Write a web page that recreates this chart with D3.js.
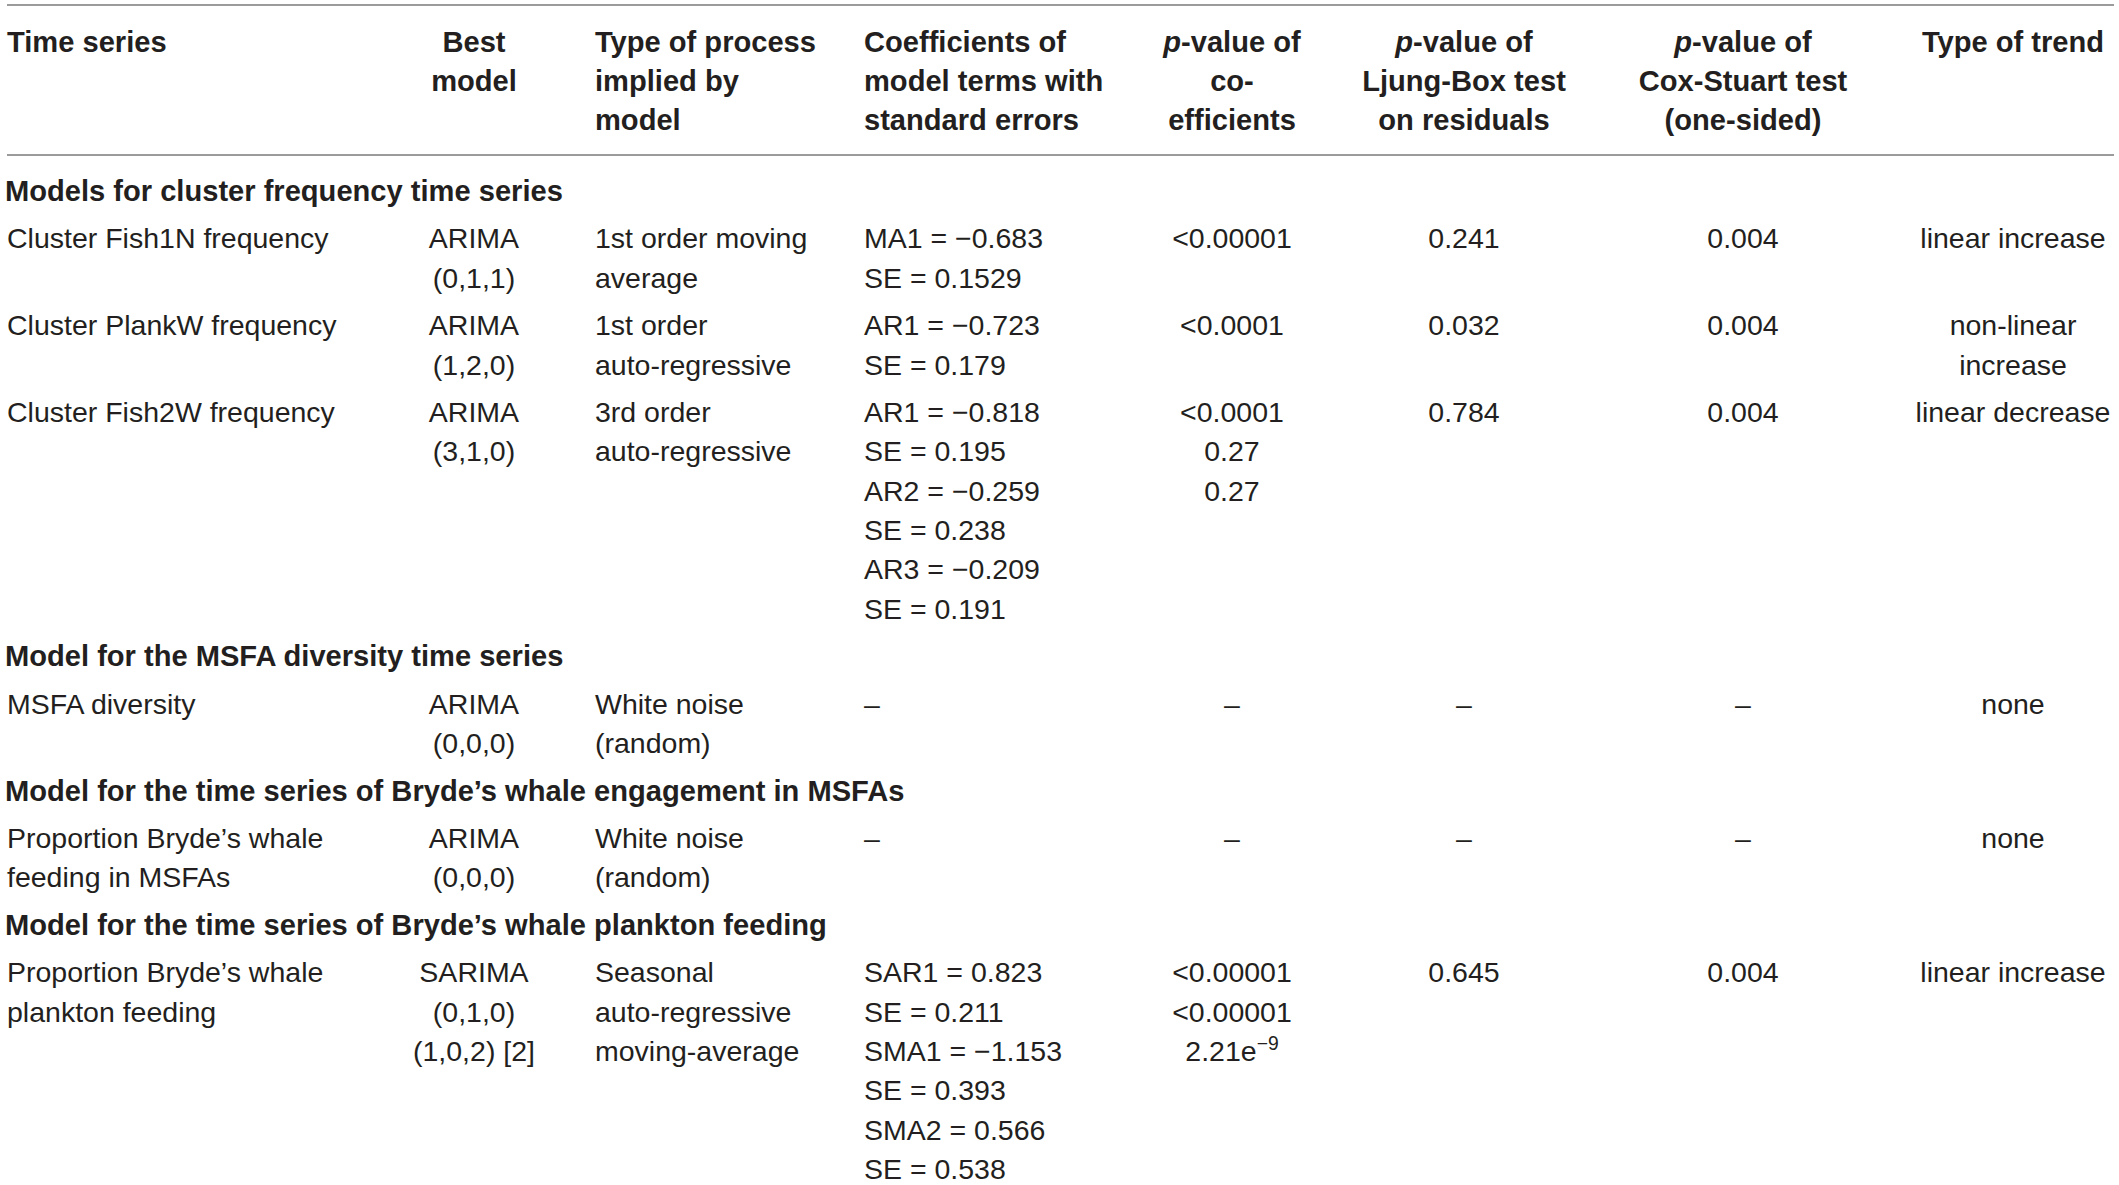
<!DOCTYPE html>
<html>
<head>
<meta charset="utf-8">
<script src="https://cdn.jsdelivr.net/npm/d3@7/dist/d3.min.js"></script>
<style>
  html, body { margin: 0; padding: 0; background: #ffffff; }
  svg { display: block; }
  text { font-family: "Liberation Sans", Arial, sans-serif; fill: #231f20; }
</style>
</head>
<body>
<svg id="chart" width="2119" height="1185"></svg>
<script>
// ---------------- data ----------------
const headerLines = [
  ["Time series"],
  ["Best", "model"],
  ["Type of process", "implied by", "model"],
  ["Coefficients of", "model terms with", "standard errors"],
  ["*p*-value of", "co-", "efficients"],
  ["*p*-value of", "Ljung-Box test", "on residuals"],
  ["*p*-value of", "Cox-Stuart test", "(one-sided)"],
  ["Type of trend"]
];

const sectionTitles = [
  "Models for cluster frequency time series",
  "Model for the MSFA diversity time series",
  "Model for the time series of Bryde\u2019s whale engagement in MSFAs",
  "Model for the time series of Bryde\u2019s whale plankton feeding"
];

const rowSection = [0, 0, 0, 1, 2, 3];

const timeSeries = [
  ["Cluster Fish1N frequency"],
  ["Cluster PlankW frequency"],
  ["Cluster Fish2W frequency"],
  ["MSFA diversity"],
  ["Proportion Bryde\u2019s whale", "feeding in MSFAs"],
  ["Proportion Bryde\u2019s whale", "plankton feeding"]
];

const bestModel = [
  ["ARIMA", "(0,1,1)"],
  ["ARIMA", "(1,2,0)"],
  ["ARIMA", "(3,1,0)"],
  ["ARIMA", "(0,0,0)"],
  ["ARIMA", "(0,0,0)"],
  ["SARIMA", "(0,1,0)", "(1,0,2) [2]"]
];

const processType = [
  ["1st order moving", "average"],
  ["1st order", "auto-regressive"],
  ["3rd order", "auto-regressive"],
  ["White noise", "(random)"],
  ["White noise", "(random)"],
  ["Seasonal", "auto-regressive", "moving-average"]
];

const coefficients = [
  ["MA1 = \u22120.683", "SE = 0.1529"],
  ["AR1 = \u22120.723", "SE = 0.179"],
  ["AR1 = \u22120.818", "SE = 0.195", "AR2 = \u22120.259", "SE = 0.238", "AR3 = \u22120.209", "SE = 0.191"],
  ["\u2013"],
  ["\u2013"],
  ["SAR1 = 0.823", "SE = 0.211", "SMA1 = \u22121.153", "SE = 0.393", "SMA2 = 0.566", "SE = 0.538"]
];

const coefPValues = [
  ["<0.00001"],
  ["<0.0001"],
  ["<0.0001", "0.27", "0.27"],
  ["\u2013"],
  ["\u2013"],
  ["<0.00001", "<0.00001", "2.21e^\u22129"]
];

const ljungBoxP = [["0.241"], ["0.032"], ["0.784"], ["\u2013"], ["\u2013"], ["0.645"]];
const coxStuartP = [["0.004"], ["0.004"], ["0.004"], ["\u2013"], ["\u2013"], ["0.004"]];

const trendType = [
  ["linear increase"],
  ["non-linear", "increase"],
  ["linear decrease"],
  ["none"],
  ["none"],
  ["linear increase"]
];

// ---------------- layout ----------------
const FS = 28.5, FSB = 29.1;
const LINE = 39.35, GAP = 47.45;

const colAnchor = ["start", "middle", "start", "start", "middle", "middle", "middle", "middle"];
const colX = d3.scaleOrdinal()
  .domain(d3.range(8))
  .range([7, 474, 595, 864, 1232, 1464, 1743, 2013]);

const svg = d3.select("#chart");

// header
const headerG = svg.append("g");
headerLines.forEach((lines, c) => {
  lines.forEach((ln, i) => {
    const t = headerG.append("text")
      .attr("x", colX(c))
      .attr("y", 51.5 + i * LINE)
      .attr("text-anchor", colAnchor[c])
      .attr("font-size", FSB)
      .attr("font-weight", "bold");
    const parts = ln.split("*");
    parts.forEach((p, k) => {
      if (!p) return;
      t.append("tspan").attr("font-style", k % 2 === 1 ? "italic" : "normal").text(p);
    });
  });
});

// rules
const rules = [5, 155];
svg.append("g").selectAll("line").data(rules).join("line")
  .attr("x1", 7).attr("x2", 2114)
  .attr("y1", d => d).attr("y2", d => d)
  .attr("stroke", "#9b9b9b").attr("stroke-width", 2);

// body blocks
const columns = [timeSeries, bestModel, processType, coefficients, coefPValues, ljungBoxP, coxStuartP, trendType];
let y = 201;
let prevSection = -1;
let first = true;
const bodyG = svg.append("g");

function addText(g, str, x, yy, anchor, bold) {
  const t = g.append("text")
    .attr("x", x).attr("y", yy)
    .attr("text-anchor", anchor)
    .attr("font-size", bold ? FSB : FS)
    .attr("font-weight", bold ? "bold" : "normal");
  if (str.includes("^")) {
    const [base, sup] = str.split("^");
    t.append("tspan").text(base);
    t.append("tspan").attr("dy", -11).attr("font-size", FS * 0.68).text(sup);
  } else {
    t.text(str);
  }
}

rowSection.forEach((s, r) => {
  if (s !== prevSection) {
    if (!first) y += GAP;
    addText(bodyG, sectionTitles[s], 5, y, "start", true);
    prevSection = s;
    first = false;
  }
  y += GAP;
  const nLines = d3.max(columns, col => col[r].length);
  columns.forEach((col, c) => {
    col[r].forEach((ln, i) => {
      addText(bodyG, ln, colX(c), y + i * LINE, colAnchor[c], false);
    });
  });
  y += (nLines - 1) * LINE;
});
</script>
</body>
</html>
